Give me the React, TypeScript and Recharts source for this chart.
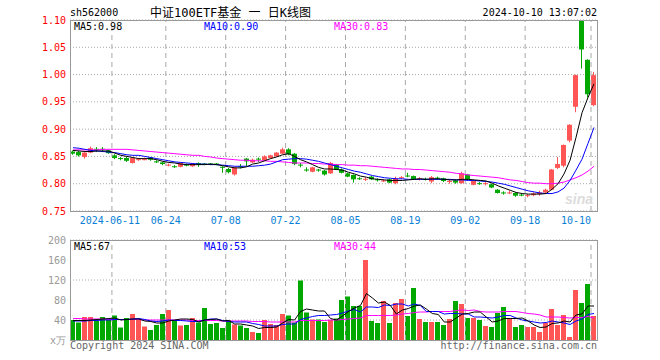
import React from "react";
import { ComposedChart, Bar, Line, XAxis, YAxis, CartesianGrid, ReferenceLine } from "recharts";

const dates = ["05-30","05-31","06-03","06-04","06-05","06-06","06-07","06-11","06-12","06-13","06-14","06-17","06-18","06-19","06-20","06-21","06-24","06-25","06-26","06-27","06-28","07-01","07-02","07-03","07-04","07-05","07-08","07-09","07-10","07-11","07-12","07-15","07-16","07-17","07-18","07-19","07-22","07-23","07-24","07-25","07-26","07-29","07-30","07-31","08-01","08-02","08-05","08-06","08-07","08-08","08-09","08-12","08-13","08-14","08-15","08-16","08-19","08-20","08-21","08-22","08-23","08-26","08-27","08-28","08-29","08-30","09-02","09-03","09-04","09-05","09-06","09-09","09-10","09-11","09-12","09-13","09-18","09-19","09-20","09-23","09-24","09-25","09-26","09-27","09-30","10-08","10-09","10-10"];

const opens = [.859,.858,.849,.857,.864,.864,.861,.852,.847,.847, .838,.844,.844,.848,.841,.839,.834,.832,.831,.835, .832,.838,.837,.837,.837,.831,.827,.817,.832,.846, .839,.846,.843,.847,.850,.855,.863,.855,.835,.826, .822,.826,.824,.819,.835,.826,.819,.816,.810,.808, .813,.808,.805,.808,.801,.811,.815,.814,.809,.809, .804,.811,.810,.804,.806,.801,.817,.798,.801,.800, .799,.789,.784,.783,.783,.780,.778,.779,.781,.784, .789,.829,.833,.879,.941,1.099,1.027,.944];
const highs = [.861,.860,.858,.868,.867,.867,.862,.854,.849,.849, .848,.847,.848,.849,.843,.840,.837,.834,.839,.837, .838,.839,.838,.838,.838,.832,.829,.831,.836,.847, .846,.848,.852,.853,.858,.866,.865,.856,.838,.830, .831,.827,.825,.840,.836,.828,.820,.817,.812,.812, .814,.810,.808,.809,.813,.814,.820,.815,.812,.811, .814,.813,.811,.808,.807,.822,.818,.806,.803,.803, .800,.790,.786,.787,.784,.782,.781,.784,.787,.791, .827,.849,.872,.909,1.0,1.10,1.028,1.005];
const lows = [.853,.850,.846,.856,.858,.858,.855,.845,.843,.840, .837,.842,.843,.842,.838,.834,.832,.829,.830,.832, .831,.831,.834,.834,.834,.820,.819,.815,.828,.832, .838,.840,.842,.846,.849,.854,.852,.834,.830,.822, .821,.822,.815,.818,.825,.819,.812,.802,.807,.805, .807,.804,.803,.801,.799,.809,.812,.807,.806,.806, .801,.808,.803,.800,.800,.800,.806,.797,.798,.797, .792,.782,.780,.781,.776,.777,.775,.777,.778,.782, .788,.827,.830,.876,.931,1.011,.958,.942];
const closes = [.855,.852,.857,.865,.863,.863,.856,.847,.846,.842, .847,.845,.845,.844,.840,.836,.835,.831,.838,.834, .837,.835,.836,.836,.836,.830,.821,.830,.831,.841, .844,.845,.850,.852,.857,.863,.854,.836,.834,.825, .830,.825,.817,.838,.826,.820,.813,.808,.809,.809, .808,.807,.806,.802,.810,.812,.814,.808,.810,.808, .812,.810,.805,.805,.802,.819,.808,.805,.800,.801, .793,.783,.783,.784,.778,.779,.779,.782,.784,.789, .826,.836,.871,.908,.999,1.046,.964,.999];

const ma5 = [.861,.860,.859,.859,.860,.860,.860,.856,.852,.850, .848,.846,.846,.846,.844,.841,.839,.838,.836,.835, .835,.835,.835,.836,.835,.833,.831,.829,.829,.831, .836,.838,.842,.846,.849,.853,.855,.850,.844,.840, .835,.830,.827,.827,.826,.825,.821,.818,.814,.812, .809,.808,.807,.806,.806,.806,.807,.808,.809,.808, .809,.809,.808,.807,.807,.808,.808,.807,.806,.805, .801,.796,.792,.788,.784,.782,.781,.781,.781,.782, .790,.800,.818,.843,.885,.930,.958,.983];
const ma10 = [.866,.865,.863,.861,.860,.859,.858,.857,.855,.853, .852,.852,.850,.848,.846,.844,.842,.840,.839,.838, .837,.836,.836,.835,.835,.834,.833,.832,.832,.832, .832,.833,.834,.836,.840,.844,.845,.846,.846,.845, .843,.841,.838,.835,.832,.829,.826,.823,.821,.818, .815,.813,.811,.810,.809,.809,.808,.808,.808,.808, .808,.808,.808,.808,.807,.807,.806,.806,.805,.804, .803,.801,.799,.796,.793,.790,.787,.785,.783,.782, .782,.785,.792,.806,.825,.845,.874,.903];
const ma30 = [.862,.862,.862,.862,.862,.863,.863,.863,.863,.863, .862,.861,.860,.859,.858,.857,.856,.855,.854,.853, .852,.852,.850,.849,.847,.846,.845,.844,.843,.843, .842,.842,.842,.841,.841,.840,.839,.838,.838,.838, .837,.837,.836,.836,.835,.835,.834,.834,.833,.833, .832,.831,.830,.829,.828,.827,.827,.826,.826,.825, .824,.823,.822,.821,.819,.818,.816,.815,.814,.813, .812,.811,.809,.807,.806,.804,.802,.801,.801,.800, .800,.801,.803,.807,.811,.816,.823,.832];

// volume, 万
const volumes = [40,35,46,46,38,46,40,49,25,44, 52,40,27,20,30,52,60,40,29,30, 44,35,64,32,34,24,40,31,29,24, 16,14,40,32,30,52,49,35,119,55, 41,41,36,40,43,80,87,68,68,160, 38,34,78,34,74,82,48,104,42,36, 36,36,30,42,78,72,44,44,40,28, 26,54,66,42,26,30,26,26,16,34, 62,30,50,6,100,74,112,48];
const vma5 = [39,39,39,40,41,42,43,44,40,41, 42,42,38,37,34,34,38,40,42,42, 41,36,40,41,42,38,39,32,32,30, 28,23,25,25,26,34,41,40,57,62, 60,58,58,43,40,48,57,64,69,93, 84,74,76,69,52,60,63,68,70,62, 53,51,36,36,44,52,53,56,56,46, 36,38,43,43,43,44,38,30,25,26, 33,34,38,36,50,52,68,68];
const vma10 = [38,38,38,39,39,40,40,41,41,41, 42,43,41,38,37,38,40,39,39,38, 37,37,40,42,42,39,37,36,36,36, 33,31,28,28,28,31,32,32,41,44, 47,49,49,50,51,54,58,61,56,66, 66,65,70,69,72,72,68,72,69,57, 57,57,52,53,53,52,52,46,46,45, 44,46,49,49,44,40,38,36,34,35, 38,36,34,31,38,42,51,53];
const vma30 = [43,43,42,42,42,42,41,41,41,41, 41,41,40,40,40,40,40,40,40,40, 39,39,39,39,39,38,38,38,38,38, 37,37,37,36,36,36,36,36,39,39, 39,39,39,40,40,41,42,43,44,49, 49,49,49,49,50,52,53,55,56,56, 57,57,57,57,59,60,59,60,57,56, 56,56,57,57,57,55,53,52,50,46, 46,46,45,44,45,45,47,44];

const tickDates = ["06-11","06-24","07-08","07-22","08-05","08-19","09-02","09-18","10-10"];
const priceTicks = [0.75, 0.8, 0.85, 0.9, 0.95, 1.0, 1.05, 1.1];
const volTicks = [0, 40, 80, 120, 160, 200];

const RED = "#ff5555";
const GREEN = "#00a800";
const MONO = '"DejaVu Sans Mono", monospace';

const rows = dates.map((d, i) => ({
  date: d,
  open: opens[i],
  high: highs[i],
  low: lows[i],
  close: closes[i],
  hl: [lows[i], highs[i]],
  ma5: ma5[i],
  ma10: ma10[i],
  ma30: ma30[i],
  vol: volumes[i],
  vma5: vma5[i],
  vma10: vma10[i],
  vma30: vma30[i],
}));

const Candle = (props: any) => {
  const { x, y, height, payload } = props;
  const { open, close, high, low } = payload;
  const color = close >= open ? RED : GREEN;
  const top = Math.min(y, y + height);
  const h = Math.abs(height);
  const k = h / (high - low || 1);
  const bx = Math.round(x);
  const bodyTop = top + (high - Math.max(open, close)) * k;
  const bodyH = Math.max(1, Math.abs(open - close) * k);
  return (
    <g>
      <line x1={bx + 2.5} x2={bx + 2.5} y1={top} y2={top + h} stroke={color} strokeWidth={1} />
      <rect x={bx} y={bodyTop} width={5} height={bodyH} fill={color} />
    </g>
  );
};

const VolBar = (props: any) => {
  const { x, y, height, payload } = props;
  const color = payload.close >= payload.open ? RED : GREEN;
  return <rect x={Math.round(x)} y={Math.min(y, y + height)} width={5} height={Math.abs(height)} fill={color} />;
};

const DateTick = (props: any) => {
  const { x, payload, index } = props;
  const v = payload.value;
  let label = v;
  let anchor: "middle" | "end" = "middle";
  let tx = x - 3;
  if (v === "06-11") {
    label = "2024-06-11";
    tx = x - 5;
  }
  if (v === "10-10") anchor = "end";
  return (
    <text key={index} x={tx} y={224} textAnchor={anchor} fill="#0a7fd6" fontSize={10} fontFamily={MONO}>
      {label}
    </text>
  );
};

const vLines = tickDates.map((d) => (
  <ReferenceLine key={d} x={d} position="start" stroke="#a8a8a8" strokeDasharray="5 4" ifOverflow="visible" />
));

export default function App() {
  return (
    <div style={{ position: "absolute", left: 0, top: 0, width: 660, height: 360, background: "#fff" }}>
      <div style={{ position: "absolute", left: 0, top: 0 }}>
        <ComposedChart width={660} height={230} data={rows} margin={{ top: 20, right: 63, bottom: 0, left: 0 }}>
          <CartesianGrid vertical={false} stroke="#aaa" strokeDasharray="1 2" />
          <XAxis dataKey="date" ticks={tickDates} interval={0} height={19} axisLine={false} tickLine={false} tick={<DateTick />} />
          <YAxis
            width={70}
            domain={[0.75, 1.1]}
            ticks={priceTicks}
            allowDataOverflow
            axisLine={false}
            tickLine={false}
            tickSize={0}
            tickMargin={4}
            tickFormatter={(v: number) => v.toFixed(2)}
            tick={{ fill: "#ff0000", fontSize: 10, fontFamily: MONO }}
          />
          {vLines}
          <Bar dataKey="hl" barSize={5} shape={<Candle />} isAnimationActive={false} />
          <Line dataKey="ma30" stroke="#ff00ff" strokeWidth={1} dot={false} isAnimationActive={false} />
          <Line dataKey="ma10" stroke="#0000ff" strokeWidth={1} dot={false} isAnimationActive={false} />
          <Line dataKey="ma5" stroke="#000000" strokeWidth={1} dot={false} isAnimationActive={false} />
        </ComposedChart>
      </div>
      <div style={{ position: "absolute", left: 0, top: 230 }}>
        <ComposedChart width={660} height={130} data={rows} margin={{ top: 10, right: 63, bottom: 20, left: 0 }}>
          <CartesianGrid vertical={false} stroke="#aaa" strokeDasharray="1 2" />
          <XAxis dataKey="date" hide />
          <YAxis
            width={70}
            domain={[0, 200]}
            ticks={volTicks}
            axisLine={false}
            tickLine={false}
            tickSize={0}
            tickMargin={4}
            tickFormatter={(v: number) => (v === 0 ? "x万" : String(v))}
            tick={{ fill: "#999", fontSize: 10, fontFamily: MONO }}
          />
          {vLines}
          <Bar dataKey="vol" barSize={5} shape={<VolBar />} isAnimationActive={false} />
          <Line dataKey="vma30" stroke="#ff00ff" strokeWidth={1} dot={false} isAnimationActive={false} />
          <Line dataKey="vma10" stroke="#0000ff" strokeWidth={1} dot={false} isAnimationActive={false} />
          <Line dataKey="vma5" stroke="#000000" strokeWidth={1} dot={false} isAnimationActive={false} />
        </ComposedChart>
      </div>
      <div style={{ position: "absolute", left: 70, top: 20, width: 528, height: 192, boxSizing: "border-box", border: "1px solid #999" }} />
      <div style={{ position: "absolute", left: 70, top: 240, width: 528, height: 101, boxSizing: "border-box", border: "1px solid #999" }} />
      <svg width={660} height={360} style={{ position: "absolute", left: 0, top: 0, pointerEvents: "none" }}>
        <g fontFamily={MONO} fontSize={10}>
          <text x={70} y={16} fill="#000">sh562000</text>
          <text x={597} y={16} fill="#000" textAnchor="end">2024-10-10 13:07:02</text>
          <text x={74} y={30} fill="#000">MA5:0.98</text>
          <text x={204} y={30} fill="#0000ff">MA10:0.90</text>
          <text x={334} y={30} fill="#ff00ff">MA30:0.83</text>
          <text x={74} y={250} fill="#000">MA5:67</text>
          <text x={204} y={250} fill="#0000ff">MA10:53</text>
          <text x={334} y={250} fill="#ff00ff">MA30:44</text>
          <text x={70} y={349} fill="#666">Copyright 2024 SINA.COM</text>
          <text x={597} y={349} fill="#666" textAnchor="end">http://finance.sina.com.cn</text>
        </g>
        <text x={150} y={17} fontSize={12} fontFamily='"DejaVu Sans Mono", "Noto Sans CJK SC", monospace' fill="#000" style={{ whiteSpace: "pre" }}>
          中证100ETF基金 一 日K线图
        </text>
        <text x={565} y={204} fontSize={14} fontStyle="italic" fontWeight="bold" fontFamily='"Liberation Sans", sans-serif' fill="#dcdcdc">
          sina
        </text>
      </svg>
    </div>
  );
}
